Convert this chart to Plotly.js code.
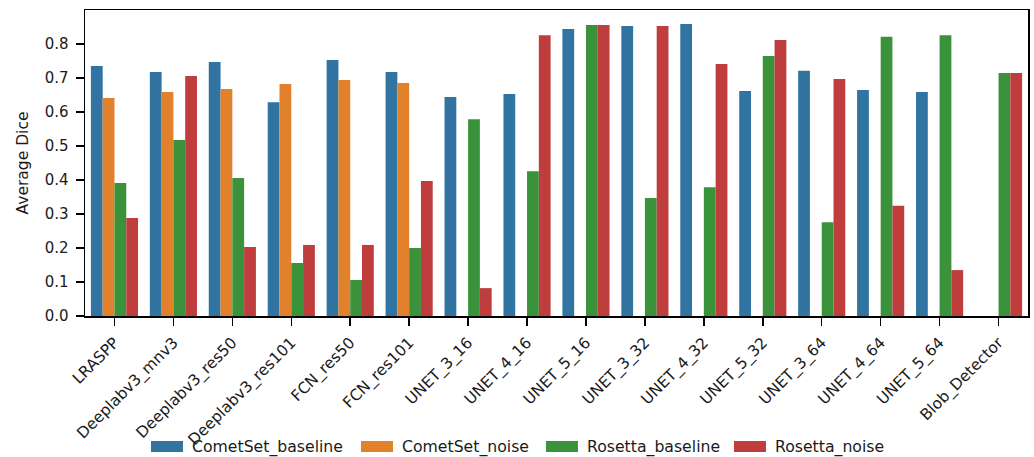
<!DOCTYPE html>
<html>
<head>
<meta charset="utf-8">
<script src="https://cdn.plot.ly/plotly-3.0.1.min.js"></script>
<style>
  html, body { margin: 0; padding: 0; background: #fff; }
  #chart { width: 1034px; height: 457px; }
</style>
</head>
<body>
<div id="chart"></div>
<script>
// Model names along the x axis
const models = [
  "LRASPP", "Deeplabv3_mnv3", "Deeplabv3_res50", "Deeplabv3_res101",
  "FCN_res50", "FCN_res101", "UNET_3_16", "UNET_4_16", "UNET_5_16",
  "UNET_3_32", "UNET_4_32", "UNET_5_32", "UNET_3_64", "UNET_4_64",
  "UNET_5_64", "Blob_Detector"
];

// Average Dice per model for each training setup (null = not evaluated)
const cometBaseline = [0.735, 0.718, 0.747, 0.629, 0.753, 0.718, 0.644, 0.653, 0.844, 0.853, 0.859, 0.662, 0.721, 0.665, 0.659, null];
const cometNoise    = [0.641, 0.659, 0.668, 0.682, 0.694, 0.685, null, null, null, null, null, null, null, null, null, null];
const rosettaBaseline = [0.391, 0.518, 0.406, 0.156, 0.106, 0.200, 0.579, 0.426, 0.856, 0.347, 0.379, 0.765, 0.276, 0.821, 0.826, 0.715];
const rosettaNoise    = [0.288, 0.706, 0.203, 0.209, 0.209, 0.397, 0.082, 0.826, 0.856, 0.853, 0.741, 0.812, 0.697, 0.324, 0.135, 0.715];

const seriesNames = ["CometSet_baseline", "CometSet_noise", "Rosetta_baseline", "Rosetta_noise"];
const seriesValues = [cometBaseline, cometNoise, rosettaBaseline, rosettaNoise];
const seriesColors = ["#3274a1", "#e1812c", "#3a923a", "#c03d3e"];

const yTicks = [0, 0.1, 0.2, 0.3, 0.4, 0.5, 0.6, 0.7, 0.8];
const yTickText = ["0.0", "0.1", "0.2", "0.3", "0.4", "0.5", "0.6", "0.7", "0.8"];

const FONT = "DejaVu Sans, sans-serif";
const TEXT = "#1a1a1a";

const traces = seriesNames.map((name, i) => ({
  type: "bar",
  name: name,
  x: models,
  y: seriesValues[i],
  marker: { color: seriesColors[i], line: { width: 0 } },
  showlegend: false,
  hoverinfo: "x+y+name"
}));

// Legend row below the plot: wide colour swatch followed by the series name
const plotLeft = 85, plotRight = 1028, plotTop = 10, plotBottom = 316;
const plotW = plotRight - plotLeft, plotH = plotBottom - plotTop;
const px2x = p => (p - plotLeft) / plotW;
const px2y = p => (plotBottom - p) / plotH;

const swatchLeft = [151, 361, 546, 734];
const shapes = [];
const annotations = [];
seriesNames.forEach((name, i) => {
  shapes.push({
    type: "rect", xref: "paper", yref: "paper",
    x0: px2x(swatchLeft[i]), x1: px2x(swatchLeft[i] + 32),
    y0: px2y(452), y1: px2y(441),
    fillcolor: seriesColors[i], line: { width: 0 }
  });
  annotations.push({
    xref: "paper", yref: "paper",
    x: px2x(swatchLeft[i] + 39), y: px2y(447),
    xanchor: "left", yanchor: "middle",
    text: name, showarrow: false,
    font: { family: FONT, size: 15.7, color: TEXT }
  });
});

const layout = {
  width: 1034, height: 457,
  margin: { l: plotLeft, r: 1034 - plotRight, t: plotTop, b: 457 - plotBottom },
  paper_bgcolor: "#fff", plot_bgcolor: "#fff",
  barmode: "group", bargap: 0.2, bargroupgap: 0,
  font: { family: FONT, size: 15, color: TEXT },
  xaxis: {
    range: [-0.5, models.length - 0.5],
    tickangle: -45,
    ticks: "outside", ticklen: 8, tickwidth: 1.5, tickcolor: "#000",
    showline: true, linecolor: "#000", linewidth: 1.5, mirror: true,
    showgrid: false, zeroline: false,
    ticklabelstandoff: 2,
    tickfont: { family: FONT, size: 15.5, color: TEXT }
  },
  yaxis: {
    range: [0, 0.9],
    tickvals: yTicks, ticktext: yTickText,
    ticks: "outside", ticklen: 8, tickwidth: 1.5, tickcolor: "#000",
    showline: true, linecolor: "#000", linewidth: 1.5, mirror: true,
    showgrid: false, zeroline: false,
    ticklabelstandoff: 4,
    tickfont: { family: FONT, size: 15, color: TEXT },
    title: { text: "Average Dice", font: { family: FONT, size: 15.5, color: TEXT }, standoff: 12 }
  },
  shapes: shapes,
  annotations: annotations
};

Plotly.newPlot("chart", traces, layout, { displayModeBar: false, staticPlot: true });
</script>
</body>
</html>
